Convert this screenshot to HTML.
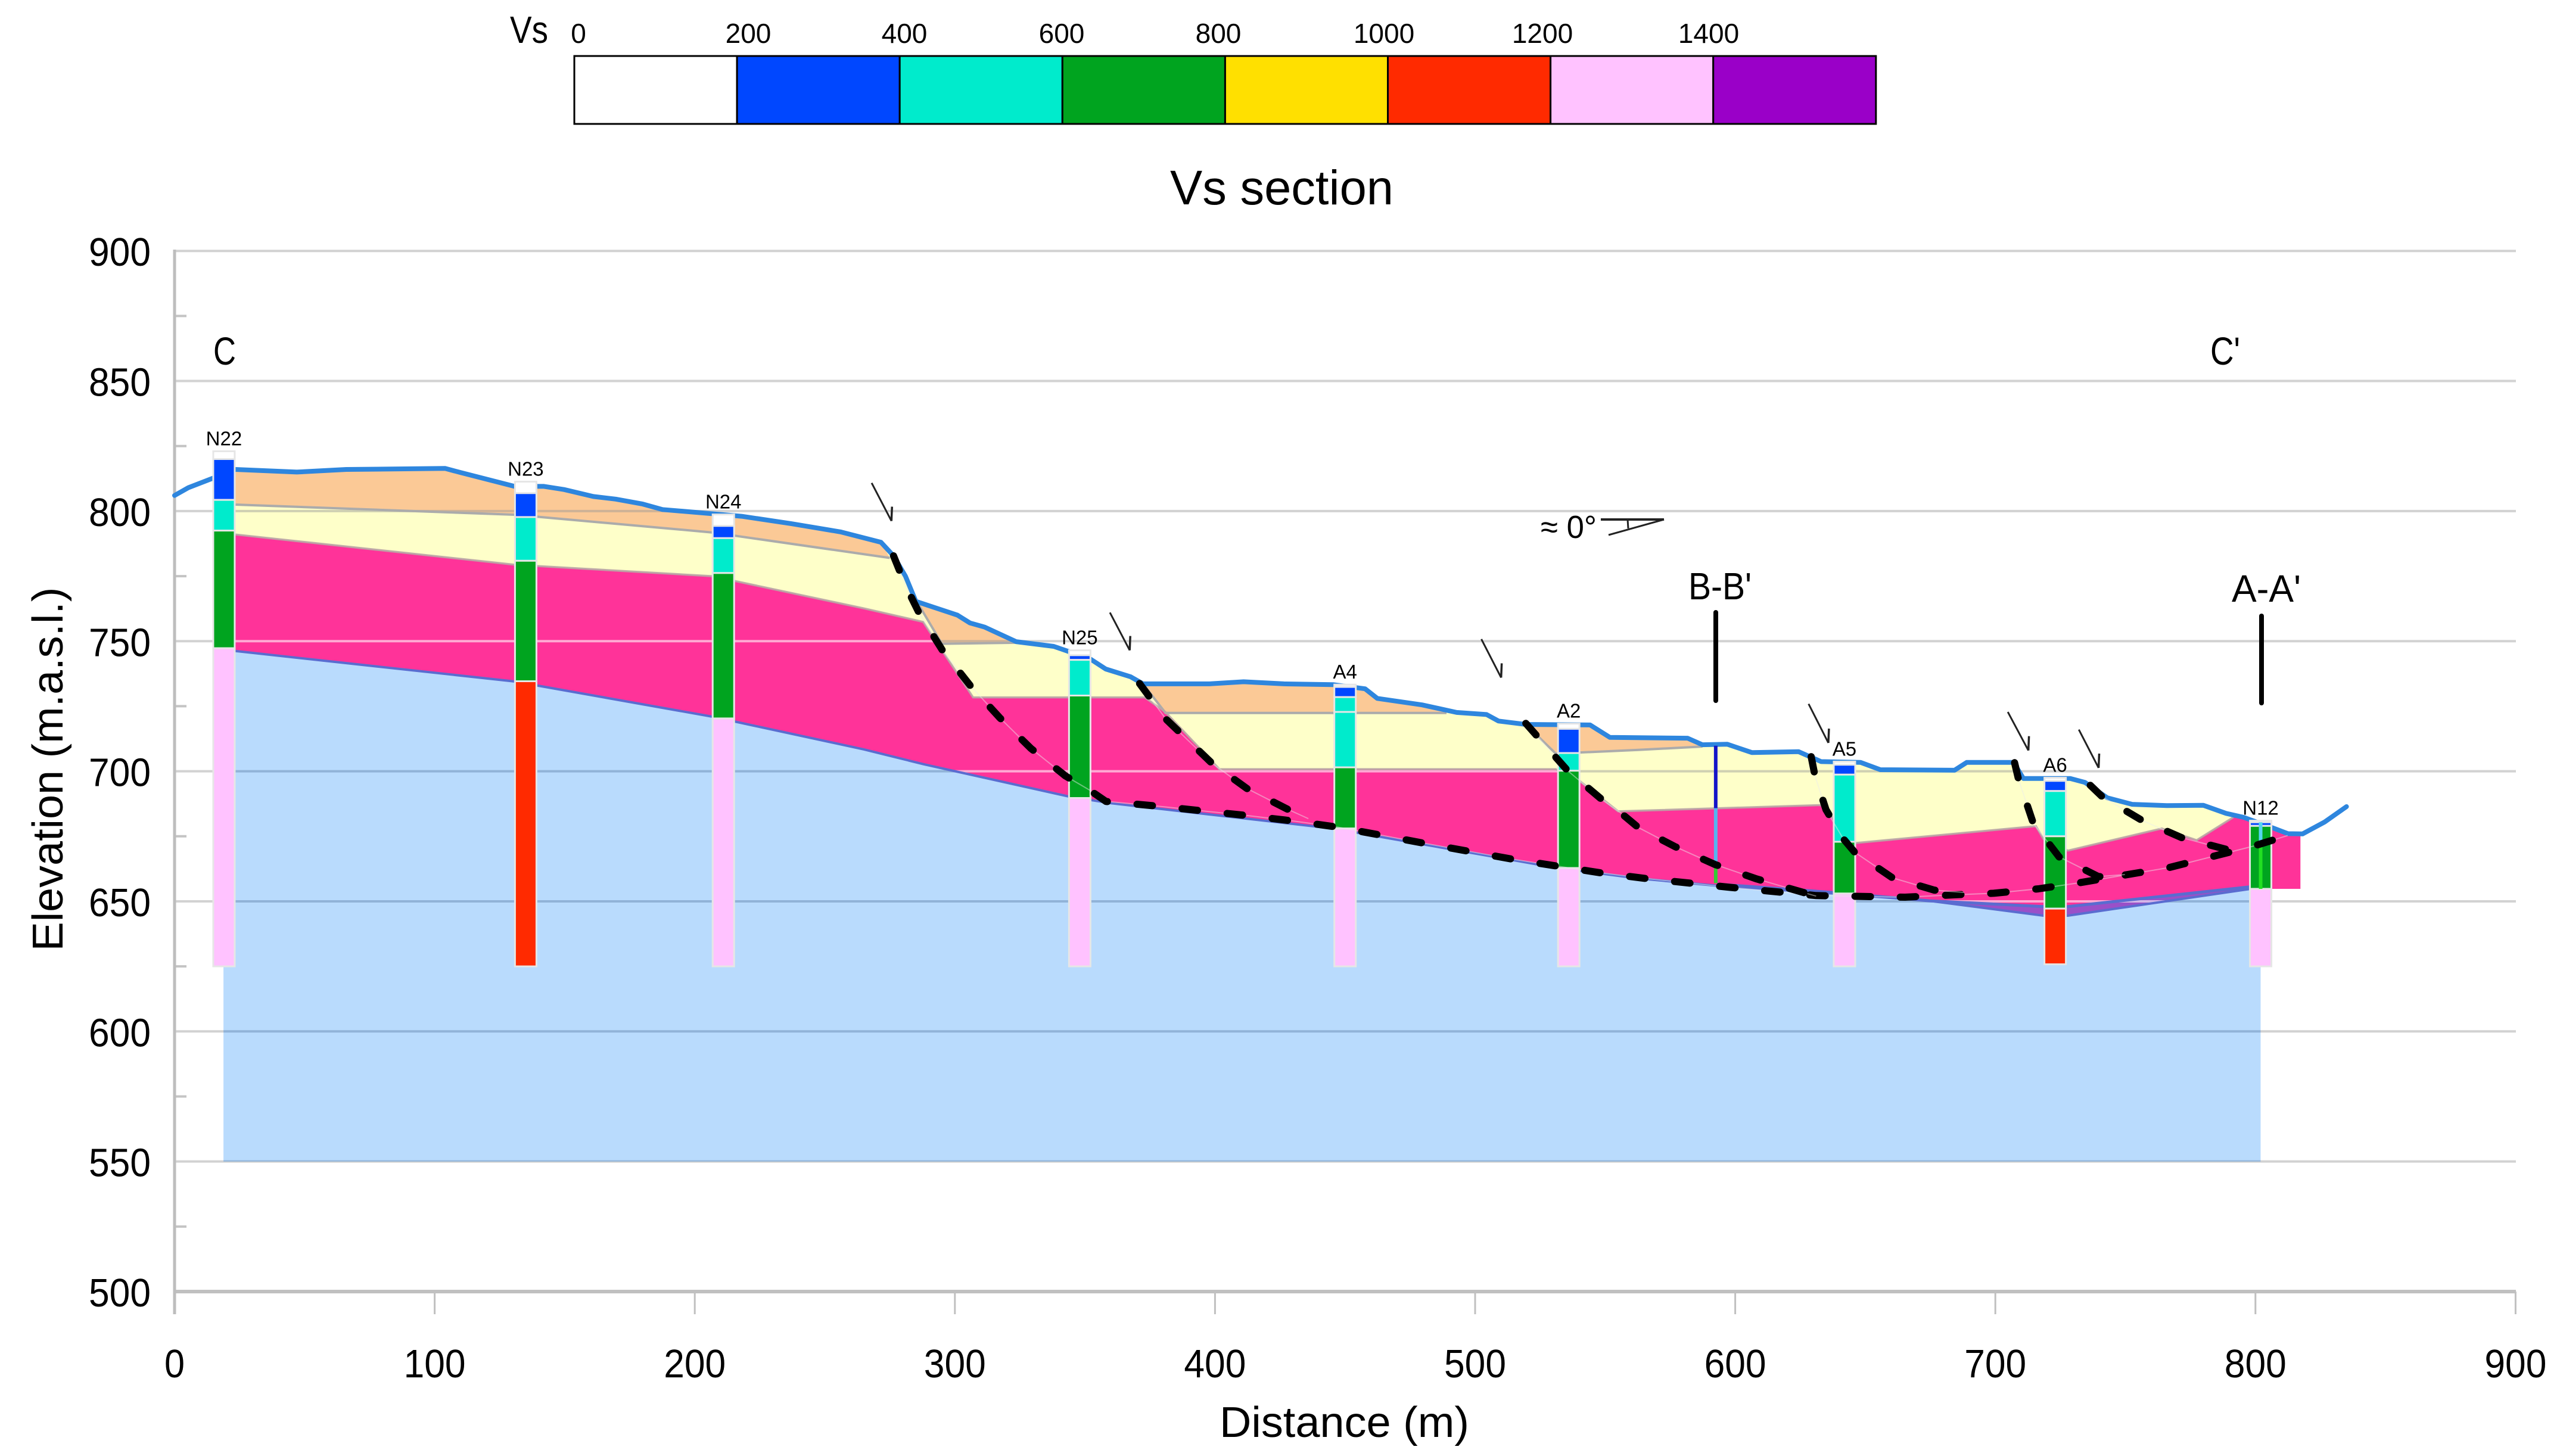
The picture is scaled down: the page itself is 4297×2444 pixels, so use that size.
<!DOCTYPE html>
<html lang="en">
<head>
<meta charset="utf-8">
<title>Vs section</title>
<style>
html,body{margin:0;padding:0;background:#fff;}
svg{display:block;}
text{font-family:"Liberation Sans","DejaVu Sans",sans-serif;fill:#000;}
</style>
</head>
<body>
<svg id="chart" xmlns="http://www.w3.org/2000/svg" width="4297" height="2444" viewBox="0 0 4297 2444">
  <rect width="4297" height="2444" fill="#fff"/>
  <defs id="defs"></defs>
  <g id="legend"></g>
  <text x="856" y="72" font-size="64" textLength="64" lengthAdjust="spacingAndGlyphs">Vs</text>
  <text x="1964" y="343" font-size="82" textLength="375" lengthAdjust="spacingAndGlyphs">Vs section</text>
  <g id="plot"></g>
  <text transform="translate(105 1291) rotate(-90)" text-anchor="middle" font-size="72" textLength="611" lengthAdjust="spacingAndGlyphs">Elevation (m.a.s.l.)</text>
  <text x="2047" y="2412" font-size="72" textLength="419" lengthAdjust="spacingAndGlyphs">Distance (m)</text>
  <text x="358" y="612" font-size="66" textLength="38" lengthAdjust="spacingAndGlyphs">C</text>
  <text x="3710" y="612" font-size="66" textLength="50" lengthAdjust="spacingAndGlyphs">C'</text>
  <text x="2834" y="1006" font-size="64" textLength="106" lengthAdjust="spacingAndGlyphs">B-B'</text>
  <text x="3746" y="1010" font-size="64" textLength="116" lengthAdjust="spacingAndGlyphs">A-A'</text>
  <line x1="2880" y1="1028" x2="2880" y2="1176" stroke="#000" stroke-width="8" stroke-linecap="round"/>
  <line x1="3796" y1="1034" x2="3796" y2="1180" stroke="#000" stroke-width="8" stroke-linecap="round"/>
  <text x="2586" y="903" font-size="54" textLength="94" lengthAdjust="spacingAndGlyphs">≈ 0°</text>
  <g fill="none" stroke="#222">
    <line x1="2687" y1="872" x2="2793" y2="872" stroke-width="4"/>
    <line x1="2700" y1="898" x2="2793" y2="872" stroke-width="3"/>
    <line x1="2732" y1="872" x2="2733" y2="887" stroke-width="3"/>
  </g>
</svg>
<script>
/* ---------- data ---------- */
const vsLabels = ['0','200','400','600','800','1000','1200','1400'];
const vsLabelCentres = [971,1256,1518,1782,2045,2323,2589,2868];
const vsColors = ['#ffffff','#0047ff','#00ebcc','#00a41f','#ffe000','#ff2a00','#ffc2ff','#9a00c8'];

const xTicks = [0,100,200,300,400,500,600,700,800,900];
const yTicks = [500,550,600,650,700,750,800,850,900];
const yMinorTicks = [525,575,625,675,725,775,825,875];

const groundSurface = [[0,806],[5.3,809],[14.9,812.7],[23.4,816],[47,815],[66,816],[104,816.4],[110,814.8],[123,811.5],[130.7,809.5],[142,809.5],[149.7,808.3],[161,805.6],[169.6,804.6],[180,802.7],[187.6,800.6],[206.6,799],[218,798],[237,795.2],[256,792],[271.6,788],[276.4,782.8],[281,775],[285,765.3],[301,760],[305.8,757],[311.5,755.4],[323.6,749.8],[338,748],[343.8,746],[352.3,743],[358,739.3],[367.6,736.3],[372.3,733.6],[397.8,733.6],[411,734.4],[426.5,733.6],[445.4,733.3],[457.7,731.7],[462.4,728],[479.6,725.5],[492.9,722.6],[504.4,721.8],[509,719.3],[519.5,718],[544.2,717.8],[551.8,713],[581.7,712.7],[587.4,710.2],[596.9,710.4],[606.4,707.2],[624.4,707.5],[633,703.7],[648.2,703.4],[655.8,700.6],[684.3,700.4],[689,703.4],[707,703.4],[710.8,697.2],[728.8,697.2],[734.5,695.7],[743,689.8],[752.6,687.3],[765.9,686.8],[780,686.9],[788.7,683.8],[795.4,682.3],[806.7,678.2],[812.5,676],[818.1,675.9],[826.6,680.5],[835,686.4]];

const bedrockTop = [[18.8,747],[23.4,746.2],[130.7,734.5],[206.6,721],[265,708.4],[288,702.7],[343.8,690.3],[360,687.7],[445.4,678],[531.9,662.8],[562.8,658.8],[593,656],[637.8,653],[674.7,650.2],[718.5,644.5],[727.9,644.5],[798.2,654.8],[802,654.8]];
const bedrockBase = 550;
const purpleTop = [[593,656.6],[637.8,653.4],[674.7,650.2],[718.5,648],[727.9,648],[798.2,655.6]];

const pinkTop = [[18.8,791.6],[23.4,791],[130.7,779.4],[206.6,775],[265,762.6],[287.8,757.4],[307,728.4],[373,728.4],[381,722.7],[401.7,700.8],[531,700.8],[540.3,696.2],[555,684.6],[633,687],[637.8,681.8],[646.2,672.4],[715.6,678.9],[718.5,674],[727.9,669.5],[764,678],[777.4,673.5],[791.5,682.3],[795.4,682.3],[806.7,678.2],[812.5,676],[817.3,675.3]];
const pinkBaseEnd = [817.3,654.8];

const orangeBottoms = [
  [[18.8,803],[23.4,802.5],[130.7,798.6],[206.6,791.8],[275,782]],
  [[285.5,765],[295,749],[323.6,749.4]],
  [[372.3,733.6],[381,722.4],[489,722.4]],
  [[519.5,718],[531,706.8],[562.8,708.2],[587.4,709.5]]
];

const boreholeNames = ['N22','N23','N24','N25','A4','A2','A5','A6','N12'];
const boreholeDist = [19,135,211,348,450,536,642,723,802];
const boreholeBounds = [
  [823,820,804.3,792.5,747.3,625],
  [811.3,806.9,797.7,780.9,734.6,625],
  [798.7,794.3,789.6,776.2,720.3,625],
  [746.5,744.6,742.8,729.1,689.7,625],
  [733.3,732.4,728.5,722.8,701.5,678,625],
  [718.3,716.3,707,700.2,662.8,625],
  [703.7,702.5,698.7,672.9,653,625],
  [697.5,696.3,692.4,675,647.2,625.8],
  [681,680.4,679,654.8,625]
];
const boreholeBands = [
  [0,1,2,3,6],[0,1,2,3,5],[0,1,2,3,6],[0,1,2,3,6],[0,1,2,2,3,6],[0,1,2,3,6],[0,1,2,3,6],[0,1,2,3,5],[0,1,3,6]
];

const profileDist = [592.5,802];
const profileBounds = [[709.8,685.8,665.3,657],[680.4,672.4,654.8]];
const profileColors = [['#1414c8','#55b5f0','#33cc33'],['#55d5f0','#22e022']];

const faultLines = [
  [[276.4,782.8],[281.1,771.2],[286.3,760.7],[295.4,746.2],[305.8,733.1],[317.2,720.6],[329.2,708.8],[342.5,698.2],[351.4,693],[358.1,688.4],[362.8,688],[379.9,686.4],[413.1,682.9],[430.6,680.8],[447.3,678.5],[480.6,672.3],[513.8,666.3],[548,661],[564.6,658.9],[597.8,655.4],[631.1,652.2],[665.3,651.6],[684.2,652.5],[699.4,653.1],[716.5,654.8],[732.7,657.2],[749.8,660.1],[766.9,663],[783,667.1],[799.1,671.2],[812.4,675.3]],
  [[371,733.7],[381.2,720],[398.8,703.1],[412.2,693.4],[427.7,685.5],[435.9,681.8]],
  [[519.5,718.4],[535.6,700.2],[548.9,689],[556,684],[562.7,678.4],[576.9,671],[592.1,664.2],[608.3,658.6],[631.1,652]],
  [[629.2,705.6],[630.7,698.1],[634.9,685.2],[641.5,674.1],[645.9,668.9],[660.5,659],[676.6,654.3],[688,653.4]],
  [[707.4,703.3],[708.9,696.9],[714.6,680],[724.5,667.1],[739.7,659.5],[749.8,660.3]],
  [[736.5,694.6],[741.2,690.1],[756.4,681.1],[771.6,674.5],[788.7,670]]
];

const dipArrows = [
  [[268,810.8],[275.6,796.2]],
  [[359.6,761],[367.2,746.5]],
  [[502.4,750.8],[510,736]],
  [[628.2,725.9],[635.8,710.9]],
  [[704.8,722.8],[712.7,708]],
  [[732.1,716],[739.7,701.3]]
];

/* ---------- scales ---------- */
function X(m){ return 293 + m * 4.366; }
function Y(e){ return 2168 - (e - 500) * 4.367; }
function pts(list){ return list.map(function(p){ return X(p[0]).toFixed(1) + ',' + Y(p[1]).toFixed(1); }).join(' '); }
const NS = 'http://www.w3.org/2000/svg';
function make(tag, parent, props){
  const n = document.createElementNS(NS, tag);
  for (const k in props) n.setAttribute(k, props[k]);
  parent.appendChild(n);
  return n;
}
const plot = document.getElementById('plot');
const legend = document.getElementById('legend');
const defs = document.getElementById('defs');
let el;

/* ---------- legend ---------- */
const legendLeft = 964, legendStep = 273.1, legendTop = 94, legendHeight = 114;
vsColors.forEach(function(c, i){
  el = make('rect', legend, {x: legendLeft + i * legendStep, y: legendTop, width: legendStep, height: legendHeight, fill: c, stroke: '#000', 'stroke-width': 3});
  
  
});
vsLabels.forEach(function(t, i){
  el = make('text', legend, {x: vsLabelCentres[i], y: 72, 'font-size': 46, 'text-anchor': 'middle'});
  el.textContent = t;
  
  
});

/* ---------- base grid ---------- */
yTicks.forEach(function(v){
  el = make('line', plot, {x1: 293, x2: 4223, y1: Y(v), y2: Y(v), stroke: v === 500 ? '#c0c0c0' : '#d2d2d2', 'stroke-width': v === 500 ? 6 : 4});
  
  
  el = make('text', plot, {x: 253, y: Y(v) + 25, 'font-size': 67, 'text-anchor': 'end', textLength: 104, lengthAdjust: 'spacingAndGlyphs'});
  el.textContent = String(v);
  
  
});
yMinorTicks.forEach(function(v){
  el = make('line', plot, {x1: 293, x2: 313, y1: Y(v), y2: Y(v), stroke: '#c4c4c4', 'stroke-width': 4});
  
  
});
xTicks.forEach(function(v){
  el = make('line', plot, {x1: X(v), x2: X(v), y1: 2168, y2: 2206, stroke: '#c0c0c0', 'stroke-width': v === 0 ? 4 : 3});
  
  
  el = make('text', plot, {x: X(v), y: 2312, 'font-size': 67, 'text-anchor': 'middle'});
  if (v >= 100) { el.setAttribute('textLength', 104); el.setAttribute('lengthAdjust', 'spacingAndGlyphs'); }
  else { el.setAttribute('textLength', 34); el.setAttribute('lengthAdjust', 'spacingAndGlyphs'); }
  el.textContent = String(v);
  
  
});
el = make('line', plot, {x1: 293, x2: 293, y1: 419, y2: 2206, stroke: '#bdbdbd', 'stroke-width': 5});



/* ---------- geological layers ---------- */
function surfaceBetween(a, b){
  return groundSurface.filter(function(p){ return p[0] > a && p[0] < b; });
}
const first = bedrockTop[0], last = bedrockTop[bedrockTop.length - 1];
const basementPoly = bedrockTop.concat([[last[0], bedrockBase],[first[0], bedrockBase]]);
const pinkPoly = pinkTop.concat([pinkBaseEnd]).concat(bedrockTop.slice().reverse());
const yellowEnd = 791.5;
const yellowPoly = surfaceBetween(18.8, yellowEnd).concat(pinkTop.slice().reverse().filter(function(p){ return p[0] <= yellowEnd; }));

el = make('polygon', plot, {points: pts(basementPoly), fill: '#b9dbfd'});



el = make('polygon', plot, {points: pts(yellowPoly), fill: '#feffc9'});



const orangePolys = orangeBottoms.map(function(b){
  return b.concat(surfaceBetween(b[0][0], b[b.length - 1][0]).reverse());
});
orangePolys.forEach(function(p){
  el = make('polygon', plot, {points: pts(p), fill: '#fbc996'});
  
  
});

el = make('polygon', plot, {points: pts(pinkPoly), fill: '#ff3399'});



const purplePoly = purpleTop.concat(bedrockTop.filter(function(p){ return p[0] >= purpleTop[0][0] && p[0] <= purpleTop[purpleTop.length - 1][0]; }).reverse());
el = make('polygon', plot, {points: pts(purplePoly), fill: '#9a50c8'});



/* grid showing through the layers */
function gridOverlay(id, poly, colour){
  const cp = make('clipPath', defs, {id: id});
  make('polygon', cp, {points: pts(poly)});
  const g = make('g', plot, {'clip-path': 'url(#' + id + ')'});
  
  
  yTicks.forEach(function(v){
    el = make('line', g, {x1: 293, x2: 4223, y1: Y(v), y2: Y(v), stroke: colour, 'stroke-width': 4});
    
    
  });
}
gridOverlay('clip-basement', basementPoly, 'rgba(90,125,165,.42)');
gridOverlay('clip-pink', pinkPoly, 'rgba(255,255,255,.58)');
gridOverlay('clip-yellow', yellowPoly, 'rgba(150,150,150,.45)');

/* layer boundaries */
orangeBottoms.forEach(function(b){
  el = make('polyline', plot, {points: pts(b), fill: 'none', stroke: '#ababab', 'stroke-width': 4});
  
  
});
el = make('polyline', plot, {points: pts(pinkTop.filter(function(p){ return p[0] <= yellowEnd; })), fill: 'none', stroke: 'rgba(185,165,165,.9)', 'stroke-width': 3.5});


el = make('polyline', plot, {points: pts(bedrockTop), fill: 'none', stroke: '#5a6cd0', 'stroke-width': 4});


el = make('polyline', plot, {points: pts(purpleTop), fill: 'none', stroke: '#5a6cd0', 'stroke-width': 5});



/* ---------- ground surface ---------- */
el = make('polyline', plot, {points: pts(groundSurface), fill: 'none', stroke: '#2e86de', 'stroke-width': 8, 'stroke-linejoin': 'round', 'stroke-linecap': 'round'});



/* ---------- boreholes ---------- */
boreholeNames.forEach(function(name, i){
  const bounds = boreholeBounds[i];
  const cx = X(boreholeDist[i]);
  boreholeBands[i].forEach(function(band, j){
    el = make('rect', plot, {x: cx - 18, y: Y(bounds[j]), width: 36, height: Math.max(1, Y(bounds[j + 1]) - Y(bounds[j])), fill: vsColors[band], stroke: '#e6e6e6', 'stroke-width': 3});
    
    
  });
  el = make('text', plot, {x: cx, y: Y(bounds[0]) - 10, 'font-size': 33, 'text-anchor': 'middle'});
  el.textContent = name;
  
  
});

/* ---------- thin profile lines ---------- */
profileDist.forEach(function(d, i){
  profileColors[i].forEach(function(c, j){
    el = make('line', plot, {x1: X(d), x2: X(d), y1: Y(profileBounds[i][j]), y2: Y(profileBounds[i][j + 1]), stroke: c, 'stroke-width': 6});
    
    
  });
});

/* ---------- faults ---------- */
faultLines.forEach(function(f){
  el = make('polyline', plot, {points: pts(f), fill: 'none', stroke: 'rgba(235,235,235,.45)', 'stroke-width': 2});
  
  
  el = make('polyline', plot, {points: pts(f), fill: 'none', stroke: '#000', 'stroke-width': 12, 'stroke-dasharray': '26 50', 'stroke-linecap': 'round', 'stroke-linejoin': 'round'});
  
  
});

/* ---------- dip arrows ---------- */
dipArrows.forEach(function(a){
  const tx = X(a[1][0]), ty = Y(a[1][1]);
  el = make('line', plot, {x1: X(a[0][0]), y1: Y(a[0][1]), x2: tx, y2: ty, stroke: '#222', 'stroke-width': 3});
  
  
  el = make('line', plot, {x1: tx + 1, y1: ty - 24, x2: tx, y2: ty, stroke: '#222', 'stroke-width': 3.5});
  
  
});
</script>
</body>
</html>
